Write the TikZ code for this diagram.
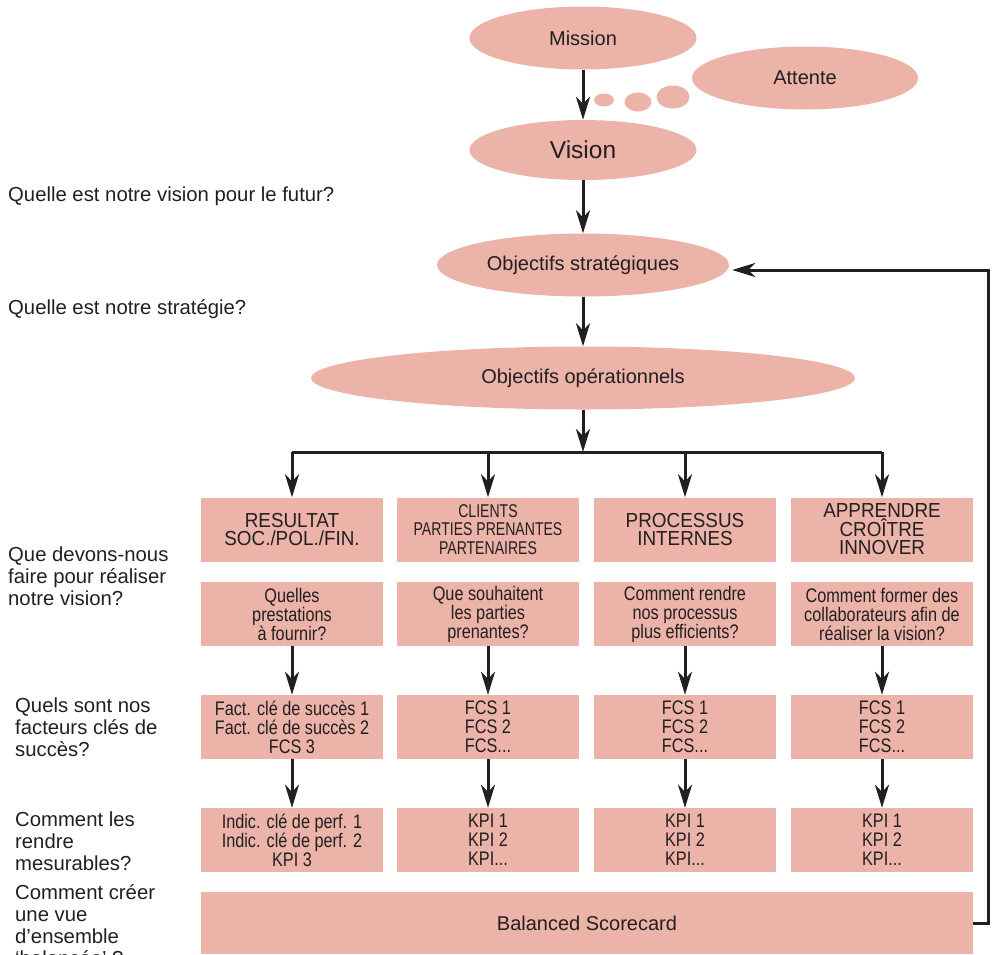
\documentclass[tikz,border=0pt]{standalone}
\usepackage{fontspec}
\setmainfont{Liberation Sans}
% condensed cuts for the text inside the rectangular cards
\newfontfamily\condbody[FakeStretch=0.83]{Liberation Sans}
\newfontfamily\condhead[FakeStretch=0.93]{Liberation Sans}
\newfontfamily\condnarrow[FakeStretch=0.76]{Liberation Sans}
\usetikzlibrary{shapes.geometric,arrows.meta}
\definecolor{blush}{RGB}{236,179,168}
\definecolor{ink}{RGB}{35,31,32}

\begin{document}
\begin{tikzpicture}[x=1pt,y=-1pt,
  oval/.style={ellipse, fill=blush, inner sep=0pt, text=ink,
    font=\fontsize{20}{24}\selectfont},
  card/.style={rectangle, fill=blush, minimum width=182pt, minimum height=64pt,
    inner sep=0pt, text=ink, align=center,
    font=\condbody\fontsize{19.6}{19}\selectfont},
  headcard/.style={card, font=\condhead\fontsize{20.3}{18.6}\selectfont},
  narrowcard/.style={card, font=\condnarrow\fontsize{18.5}{18.4}\selectfont},
  ask/.style={anchor=north west, inner sep=0pt, align=left, text=ink,
    font=\fontsize{20.3}{22}\selectfont},
  wire/.style={draw=ink, line width=3pt},
  arr/.style={wire, -{Stealth[length=23pt,width=14pt,inset=7pt]}}
]
\useasboundingbox (0,0) rectangle (995,954);

% upper chain of ellipses
\node[oval, minimum width=227pt, minimum height=63pt] (mission) at (583,38) {Mission};
\node[oval, minimum width=226pt, minimum height=63pt] (attente) at (805,78) {Attente};
\node[oval, minimum width=20pt, minimum height=13pt] (bub1) at (604,100) {};
\node[oval, minimum width=27pt, minimum height=19pt] (bub2) at (638,102) {};
\node[oval, minimum width=33pt, minimum height=23pt] (bub3) at (673,97) {};
\node[oval, minimum width=227pt, minimum height=60pt,
  font=\fontsize{24.5}{28}\selectfont] (vision) at (583,150) {Vision};
\node[oval, minimum width=292pt, minimum height=63pt] (ostrat) at (583,265) {Objectifs stratégiques};
\node[oval, minimum width=544pt, minimum height=63pt] (oop) at (583,378) {Objectifs opérationnels};

% row 1: perspectives
\node[headcard] (p1) at (292,529.5) {RESULTAT\\SOC./POL./FIN.};
\node[narrowcard] (p2) at (488,529.5) {CLIENTS\\PARTIES PRENANTES\\PARTENAIRES};
\node[headcard] (p3) at (685,529.5) {PROCESSUS\\INTERNES};
\node[headcard] (p4) at (882,529.5) {APPRENDRE\\CROÎTRE\\INNOVER};

% row 2: questions
\node[card] (q1) at (292,614) {Quelles\\prestations\\à fournir?};
\node[card] (q2) at (488,614) {Que souhaitent\\les parties\\prenantes?};
\node[card] (q3) at (685,614) {Comment rendre\\nos processus\\plus efficients?};
\node[card] (q4) at (882,614) {Comment former des\\collaborateurs afin de\\réaliser la vision?};

% row 3: key success factors
\node[card] (f1) at (292,727) {Fact. clé de succès 1\\Fact. clé de succès 2\\FCS 3};
\node[card] (f2) at (488,727) {FCS 1\\FCS 2\\FCS...};
\node[card] (f3) at (685,727) {FCS 1\\FCS 2\\FCS...};
\node[card] (f4) at (882,727) {FCS 1\\FCS 2\\FCS...};

% row 4: key performance indicators
\node[card] (k1) at (292,840) {Indic. clé de perf. 1\\Indic. clé de perf. 2\\KPI 3};
\node[card] (k2) at (488,840) {KPI 1\\KPI 2\\KPI...};
\node[card] (k3) at (685,840) {KPI 1\\KPI 2\\KPI...};
\node[card] (k4) at (882,840) {KPI 1\\KPI 2\\KPI...};

% scorecard band
\node[rectangle, fill=blush, minimum width=772pt, minimum height=62pt, inner sep=0pt,
  text=ink, font=\fontsize{20}{24}\selectfont] (bsc) at (587,923) {Balanced Scorecard};

% guiding questions on the left
\node[ask] (t1) at (8,187) {Quelle est notre vision pour le futur?};
\node[ask] (t2) at (8,299) {Quelle est notre stratégie?};
\node[ask] (t3) at (8,547) {Que devons-nous\\faire pour réaliser\\notre vision?};
\node[ask] (t4) at (15,698) {Quels sont nos\\facteurs clés de\\succès?};
\node[ask] (t5) at (15,812) {Comment les\\rendre\\mesurables?};
\node[ask] (t6) at (15,884) {Comment créer\\une vue\\d’ensemble\\‘balancée’ ?};

% vertical chain
\draw[arr] (mission) -- (vision);
\draw[arr] (vision) -- (ostrat);
\draw[arr] (ostrat) -- (oop);

% branching into the four perspectives
\coordinate (hub) at (583,452);
\draw[arr] (oop) -- (hub);
\draw[wire] (p1.north |- hub) -- (p4.north |- hub);
\foreach \p in {p1,p2,p3,p4}
  \draw[arr] (\p.north |- hub) -- (\p.north);

% factors and indicators
\foreach \a/\b in {q1/f1,q2/f2,q3/f3,q4/f4,f1/k1,f2/k2,f3/k3,f4/k4}
  \draw[arr] (\a) -- (\b);

% feedback loop from the scorecard to the strategic objectives
\draw[arr] (bsc.east) -- ++(15,0) |- ([shift={(3,5)}]ostrat.east);
\end{tikzpicture}
\end{document}
